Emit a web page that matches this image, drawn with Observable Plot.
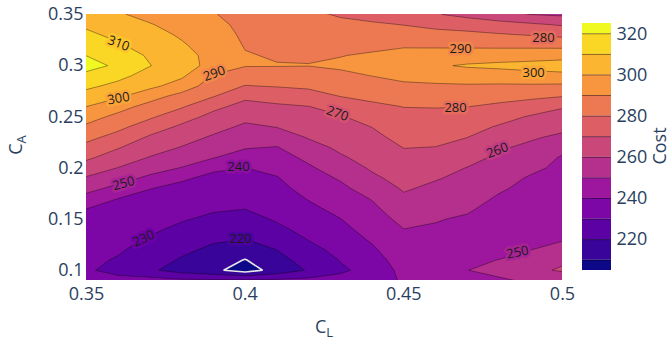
<!DOCTYPE html>
<html><head><meta charset="utf-8">
<script src="https://cdn.jsdelivr.net/npm/d3@7"></script>
<script src="https://cdn.jsdelivr.net/npm/@observablehq/plot@0.6"></script>
<style>
body{margin:0;background:#fff;}
#wrap{position:relative;width:670px;height:341px;font-family:"Open Sans",sans-serif;color:#2a3f5f;overflow:hidden;}
#main,#cbar{position:absolute;top:0;}
#main{left:0;} #cbar{left:562px;}
.title{position:absolute;font-size:18px;line-height:18px;white-space:nowrap;}
.title .sub{font-size:13px;position:relative;top:4px;}
#xt{left:324px;top:317px;transform:translateX(-50%);}
#yt{left:16px;top:145px;transform:translate(-50%,-50%) rotate(-90deg);}
#ct{left:659px;top:146px;transform:translate(-50%,-50%) rotate(-90deg);}
</style></head>
<body>
<div id="wrap">
  <div id="main"></div>
  <div id="cbar"></div>
  <div class="title" id="xt">C<span class="sub">L</span></div>
  <div class="title" id="yt">C<span class="sub">A</span></div>
  <div class="title" id="ct">Cost</div>
</div>
<script>
// Grid axes
const CL = [0.35,0.36,0.37,0.38,0.39,0.40,0.41,0.42,0.43,0.44,0.45,0.46,0.47,0.48,0.49,0.50];
const CA = [0.35,0.34,0.33,0.32,0.31,0.30,0.29,0.28,0.27,0.26,0.25,0.24,0.23,0.22,0.21,0.20,0.19,0.18,0.17,0.16,0.15,0.14,0.13,0.12,0.11,0.10,0.09];

// Cost per C_L column, listed from C_A = 0.35 (top) down to 0.09
const cost_CL035 = [305,308.4,312,316,319.8,324,317,312,306,300,294,288.2,282.7,277.2,271.6,265.3,259,253,246.6,240,238,236,234.5,233,232,231,232];
const cost_CL036 = [301,304.3,307.6,311.1,315.2,318,312.6,307.3,301.3,293.8,287.4,282.3,276.6,270.6,265.2,259.7,253.7,247.2,239.9,238.2,236.4,234.6,232.8,231,229.2,227.5,232.5];
const cost_CL037 = [297.3,300.6,303.3,305.9,308.7,310.3,306.2,302.2,294,286.5,281.4,275,268.7,264.1,259.4,253.9,247.9,240.2,237.9,235.8,233.7,231.5,229.2,226.7,224.1,221.5,234];
const cost_CL038 = [293.9,296.4,298.9,301,302.7,304,301.5,295.7,286.4,281,274.1,268.1,263.8,259.5,254.7,249.6,241.1,237.9,235.6,233.2,230.8,228,225,222,219,216,232];
const cost_CL039 = [290.4,292,293.8,295.8,297.5,297,289,284.7,280.4,272.4,267.1,263,258.8,254.6,250.3,241.4,238,235.7,233.4,231,228.1,224.7,221.3,218,214.7,212,232];
const cost_CL040 = [287.5,288.1,288.6,289.4,290.6,290.5,284.8,279.6,272,266.8,262.4,258.3,254.5,250.7,245.4,239.9,237.5,235,232.6,230.1,226.7,223.3,219.8,215,209.6,205.75,232];
const cost_CL041 = [284.8,285.9,287,288.1,289.2,290.4,285.3,280.5,274.1,268.4,264.3,260.2,254.7,249.5,246,242.5,239.4,237.3,235.2,233.1,231,228,224,220.1,216.8,213.5,232];
const cost_CL042 = [281.9,283.7,285.6,287.4,289.2,290.2,285.5,281.6,276.1,269.8,266.8,263.7,260.7,256.5,252.1,248.6,245.9,243.2,240.5,237.9,235.4,232.8,230.3,227,223.8,221,233];
const cost_CL043 = [279.1,282.1,284.7,287.2,289.7,291.4,287.9,284,280.1,274.1,269.2,266.7,264.2,261.7,258.8,254.8,250.9,247.9,245.2,242.5,239.8,237.5,235.1,232.8,230.4,228.5,233];
const cost_CL044 = [276.3,281.5,284.7,287.8,291.1,293.8,290.1,286.1,282.2,278.1,274.1,270.1,267.8,265.6,263.4,261.2,258.2,254.3,250.5,248,245.7,243.5,241.1,238.6,235.9,233.2,236];
const cost_CL045 = [273.5,279.8,284.4,288.8,293.4,296.8,292.3,288.3,284.2,280.2,277.6,275.2,272.7,270.2,267.9,265.6,263.3,261,258.3,255.4,252.6,249.9,248.1,246.4,244.7,243,241];
const cost_CL046 = [270.7,277.5,283.3,288.6,293.7,298.8,293.6,288.7,284.6,280.4,277.6,275,272.4,269.8,266.7,263.7,260.7,258,255.5,252.9,250.4,249.3,248.5,247.6,246.8,246,244];
const cost_CL047 = [267.3,275.8,282.5,288.2,294.6,301,294.8,288.9,284.6,280.2,276.8,273.4,270.1,266.6,263,259.7,257.5,255.2,253,250.8,249.2,248,247.5,248,249,249.9,246];
const cost_CL048 = [263.6,273.7,281,287.8,295.3,302.2,295.1,288.6,283.3,278.1,273.5,269,265.1,261.2,258.3,255.8,253.4,251,249,247.8,247,246.8,247.3,248.5,250.1,252,249];
const cost_CL049 = [259.9,271.7,279.6,287.5,296,303,296.9,288.4,282,275.3,269.1,265.2,261.2,257.9,254.9,251.9,249,247.8,246.6,245.8,245.8,246.5,248,249.9,253.5,257,251];
const cost_CL050 = [258.5,269.1,277.9,287,296.9,304,297.6,288,280.2,270.8,266.4,262.5,258,252.6,249,248,246.8,245.8,245.2,245.5,246.5,247.8,249.4,253.3,258,261.5,250];

// Contour levels and ticks
const levels = [200,210,220,230,240,250,260,270,280,290,300,310,320];
const xTicks = [0.35,0.4,0.45,0.5];
const yTicks = [0.1,0.15,0.2,0.25,0.3,0.35];
const costTicks = [220,240,260,280,300,320];

// Contour labels (value, position in data units, angle)
const labelLevel = [310,300,290,290,280,300,280,270,260,250,240,230,220,250];
const labelCL    = [0.3601,0.3601,0.3903,0.4679,0.4940,0.4909,0.4663,0.4291,0.4795,0.3617,0.3979,0.3680,0.3985,0.4858];
const labelCA    = [0.3217,0.2679,0.2923,0.3168,0.3275,0.2933,0.2591,0.2532,0.2171,0.1848,0.2014,0.1310,0.1310,0.1174];
const labelAngle = [20,-10,-20,0,0,0,0,20,-20,-15,0,-25,0,-12];

// ---- build grid (row-major, bottom row first) ----
const columns = [cost_CL035,cost_CL036,cost_CL037,cost_CL038,cost_CL039,cost_CL040,cost_CL041,cost_CL042,
                 cost_CL043,cost_CL044,cost_CL045,cost_CL046,cost_CL047,cost_CL048,cost_CL049,cost_CL050];
const W = CL.length, H = CA.length;
const grid = [];
for (let r = 0; r < H; ++r) for (let i = 0; i < W; ++i) grid.push(columns[i][H - 1 - r]);
const dxs = (CL[1] - CL[0]) / 2, dys = (CA[0] - CA[1]) / 2;
const gridOpts = {width: W, height: H, x1: CL[0] - dxs, x2: CL[W - 1] + dxs, y1: CA[H - 1] - dys, y2: CA[0] + dys};

const plasma = ['#0d0887','#46039f','#7201a8','#9c179e','#bd3786','#d8576b','#ed7953','#fb9f3a','#fdca26','#f0f921'];
const lo = levels[0], hi = levels[levels.length - 1];
const colorOpts = {type: "linear", domain: plasma.map((_, i) => lo + i * (hi - lo) / (plasma.length - 1)), range: plasma, interpolate: "rgb"};

const labels = labelLevel.map((v, i) => ({level: v, x: labelCL[i], y: labelCA[i], a: labelAngle[i]}));

const font = {fontFamily: "'Open Sans', sans-serif", fontSize: "18px", color: "#2a3f5f", background: "transparent"};

const main = Plot.plot({
  width: 670, height: 341,
  marginLeft: 86, marginRight: 108, marginTop: 14, marginBottom: 61,
  style: font,
  x: {domain: [CL[0], CL[W - 1]], ticks: xTicks, tickFormat: d => String(d), tickSize: 0, tickPadding: 7, label: null},
  y: {domain: [CA[H - 1], CA[0]], ticks: yTicks, tickFormat: d => String(d), tickSize: 0, tickPadding: 3, label: null},
  color: colorOpts,
  marks: [
    Plot.contour(grid, {...gridOpts, fill: Plot.identity, thresholds: levels, clip: true}),
    Plot.contour(grid, {...gridOpts, value: Plot.identity, fill: "none", stroke: "#000", strokeOpacity: 0.45, strokeWidth: 0.8, thresholds: levels.slice(2), clip: true}),
    Plot.contour(grid, {...gridOpts, value: Plot.identity, fill: "none", stroke: "#e6e6e6", strokeWidth: 1.6, thresholds: [levels[1]], clip: true}),
    Plot.text(labels, {x: "x", y: "y", text: d => String(d.level), rotate: "a", fill: "#1a1a1a",
      stroke: d => d.level - 5, strokeWidth: 5, paintOrder: "stroke", strokeLinejoin: "round",
      fontSize: 13, fontFamily: "'Open Sans', sans-serif", textAnchor: "middle", lineAnchor: "middle"})
  ]
});
document.getElementById("main").append(main);

// ---- colorbar ----
const cbMin = levels[1] - (levels[1] - levels[0]) / 2, cbMax = hi + (levels[1] - levels[0]) / 2;
const bands = levels.map((t, i) => ({t, y1: Math.max(t, cbMin), y2: Math.min(i < levels.length - 1 ? levels[i + 1] : cbMax, cbMax)}));
const cbar = Plot.plot({
  width: 108, height: 341,
  marginLeft: 20, marginRight: 59, marginTop: 23, marginBottom: 71,
  style: font,
  y: {domain: [cbMin, cbMax], ticks: costTicks, tickSize: 0, tickPadding: 5, axis: "right", label: null},
  color: colorOpts,
  marks: [
    Plot.rect(bands, {y1: "y1", y2: "y2", fill: "t", inset: 0}),
    Plot.ruleY(levels.slice(1), {stroke: "#000", strokeOpacity: 0.45, strokeWidth: 1})
  ]
});
document.getElementById("cbar").append(cbar);
</script>
</body></html>
